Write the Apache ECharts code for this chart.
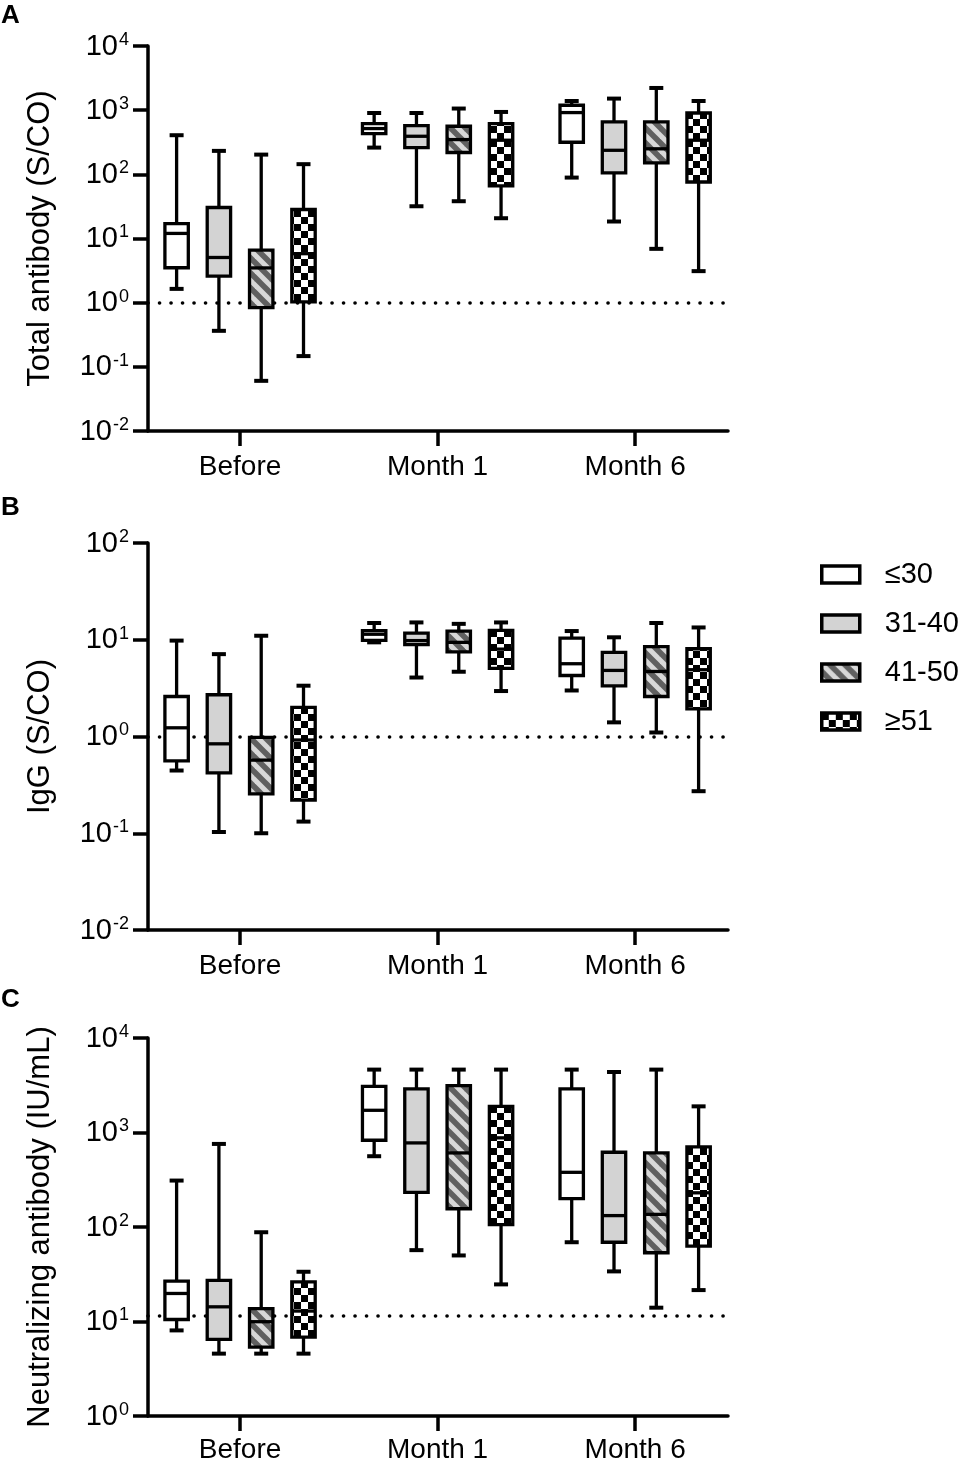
<!DOCTYPE html>
<html><head><meta charset="utf-8">
<script src="https://cdn.jsdelivr.net/npm/echarts@6/dist/echarts.min.js"></script>
<style>html,body{margin:0;padding:0;background:#fff}#c{width:958px;height:1464px}</style>
</head><body><div id="c"></div>
<script>
// ---- data (each row: [min, Q1, median, Q3, max] for Before, Month 1, Month 6) ----
const categories = ['Before', 'Month 1', 'Month 6'];
const ageGroups = ['≤30', '31-40', '41-50', '≥51'];

// Panel A: Total antibody (S/CO)
const totalLe30 = [[1.64, 3.5, 12, 17.1, 407], [261, 432, 517, 618, 904], [89, 316, 917, 1192, 1390]];
const total31to40 = [[0.364, 2.59, 5.06, 30.4, 232], [31.8, 261, 392, 575, 904], [18.4, 105, 237, 655, 1515]];
const total41to50 = [[0.0605, 0.84, 3.48, 6.57, 203], [38.1, 219, 348, 561, 1060], [6.9, 151, 250, 655, 2218]];
const totalGe51 = [[0.147, 1.03, 5.8, 28.3, 144], [20.7, 66, 340, 618, 938], [3.1, 76, 340, 904, 1390]];

// Panel B: IgG (S/CO)
const iggLe30 = [[0.445, 0.56, 1.23, 2.59, 9.8], [9.4, 9.84, 11.4, 12.4, 14.9], [2.99, 4.27, 5.65, 10.4, 12.3]];
const igg31to40 = [[0.103, 0.42, 0.84, 2.7, 7.1], [4.07, 8.9, 9.8, 11.7, 15.1], [1.4, 3.34, 4.82, 7.4, 10.6]];
const igg41to50 = [[0.1, 0.255, 0.57, 0.98, 11], [4.67, 7.5, 9.4, 12.3, 14.6], [1.1, 2.59, 4.7, 8.5, 14.9]];
const iggGe51 = [[0.132, 0.22, 0.92, 2.0, 3.35], [2.95, 5.05, 8, 12.5, 15.1], [0.272, 1.93, 4.9, 8.07, 13.4]];

// Panel C: Neutralizing antibody (IU/mL)
const nabLe30 = [[8.05, 10.5, 19.8, 26.7, 310], [561, 828, 1718, 3080, 4630], [69, 200, 379, 2890, 4630]];
const nab31to40 = [[4.57, 6.47, 14.3, 27.2, 757], [56.9, 233, 776, 2890, 4630], [33.9, 69, 132, 618, 4370]];
const nab41to50 = [[4.57, 5.36, 9.95, 13.7, 88], [50, 156, 608, 3130, 4630], [14, 53.4, 136, 608, 4630]];
const nabGe51 = [[4.57, 6.84, 12.9, 26.3, 33.6], [24.7, 106, 878, 1891, 4630], [21.5, 62.7, 230, 705, 1891]];

const panelNames = ['Total antibody (S/CO)', 'IgG (S/CO)', 'Neutralizing antibody (IU/mL)'];
const panelLetters = ['A', 'B', 'C'];
const yMins = [0.01, 0.01, 1];
const yMaxs = [10000, 100, 10000];
const cutoffs = [1, 1, 11.5];
const panelData = [
  [totalLe30, total31to40, total41to50, totalGe51],
  [iggLe30, igg31to40, igg41to50, iggGe51],
  [nabLe30, nab31to40, nab41to50, nabGe51]
];

// ---- styling ----
const FONT = 'Liberation Sans, Arial, Helvetica, sans-serif';
function makeStripe() {
  const s = 15, c = document.createElement('canvas');
  c.width = s; c.height = s;
  const g = c.getContext('2d');
  g.fillStyle = '#606060'; g.fillRect(0, 0, s, s);
  g.strokeStyle = '#d8d8d8'; g.lineWidth = 5;
  [-s, 0, s].forEach(k => { g.beginPath(); g.moveTo(k - 3, -3); g.lineTo(k + s + 3, s + 3); g.stroke(); });
  return c;
}
function makeChecker() {
  const s = 7, c = document.createElement('canvas');
  c.width = 2 * s; c.height = 2 * s;
  const g = c.getContext('2d');
  g.fillStyle = '#ffffff'; g.fillRect(0, 0, 2 * s, 2 * s);
  g.fillStyle = '#000000'; g.fillRect(0, 0, s, s); g.fillRect(s, s, s, s);
  return c;
}
const fills = ['#ffffff', '#d3d3d3',
  { image: makeStripe(), repeat: 'repeat' },
  { image: makeChecker(), repeat: 'repeat' }];

function makeRender(g) {
  return function (params, api) {
    const ci = api.value(0);
    const cx = api.coord([ci, api.value(3)])[0] + (g - 1.5) * 42.3;
    const y = i => api.coord([ci, api.value(i)])[1];
    const yMin = y(1), yQ1 = y(2), yMed = y(3), yQ3 = y(4), yMax = y(5);
    const hw = 11.7, cw = 7;
    const ls = { stroke: '#000', lineWidth: 3.3 };
    const cs = { stroke: '#000', lineWidth: 4 };
    return {
      type: 'group',
      children: [
        { type: 'line', shape: { x1: cx, y1: yMax, x2: cx, y2: yQ3 }, style: ls },
        { type: 'line', shape: { x1: cx, y1: yQ1, x2: cx, y2: yMin }, style: ls },
        { type: 'line', shape: { x1: cx - cw, y1: yMax, x2: cx + cw, y2: yMax }, style: cs },
        { type: 'line', shape: { x1: cx - cw, y1: yMin, x2: cx + cw, y2: yMin }, style: cs },
        { type: 'rect', shape: { x: cx - hw, y: yQ3, width: 2 * hw, height: yQ1 - yQ3 },
          style: { fill: fills[g], stroke: '#000', lineWidth: 3.3 } },
        { type: 'line', shape: { x1: cx - hw, y1: yMed, x2: cx + hw, y2: yMed }, style: ls }
      ]
    };
  };
}

const grids = [
  { left: 148, top: 46, width: 580, height: 385 },
  { left: 148, top: 543, width: 580, height: 387 },
  { left: 148, top: 1038, width: 580, height: 379 }
];
const titleTops = [3, 495, 987];
const labelMargins = [22, 22, 20];

const axisLineStyle = { color: '#000', width: 3.5 };
const xAxes = [], yAxes = [], series = [], titles = [];
for (let p = 0; p < 3; p++) {
  titles.push({ text: panelLetters[p], left: 1, top: titleTops[p], padding: 0,
    textStyle: { fontSize: 26, fontWeight: 'bold', color: '#000', fontFamily: FONT } });
  xAxes.push({
    gridIndex: p, type: 'value', min: -0.466, max: 2.47,
    axisLine: { show: true, onZero: false, lineStyle: axisLineStyle },
    axisTick: { show: true, customValues: [0, 1, 2], length: 15, lineStyle: axisLineStyle },
    axisLabel: { customValues: [0, 1, 2], formatter: v => categories[Math.round(v)],
      fontSize: 28, color: '#000', fontFamily: FONT, margin: labelMargins[p] },
    splitLine: { show: false }
  });
  yAxes.push({
    gridIndex: p, type: 'log', logBase: 10, min: yMins[p], max: yMaxs[p],
    name: panelNames[p], nameLocation: 'middle', nameGap: 92,
    nameTextStyle: { fontSize: 31, color: '#000', fontFamily: FONT },
    axisLine: { show: true, onZero: false, lineStyle: axisLineStyle },
    axisTick: { show: true, length: 15, lineStyle: axisLineStyle },
    splitLine: { show: false },
    axisLabel: {
      margin: 19,
      formatter: v => '{b|10}{s|' + Math.round(Math.log10(v)) + '}',
      rich: {
        b: { fontSize: 29, lineHeight: 30, color: '#000', fontFamily: FONT, verticalAlign: 'bottom' },
        s: { fontSize: 18, lineHeight: 18, color: '#000', fontFamily: FONT, verticalAlign: 'top', padding: [0, 0, 0, 1] }
      }
    }
  });
  for (let g = 0; g < 4; g++) {
    const s = {
      type: 'custom', name: ageGroups[g], xAxisIndex: p, yAxisIndex: p, z: 3,
      renderItem: makeRender(g),
      encode: { x: 0, y: [1, 2, 3, 4, 5] },
      data: panelData[p][g].map((row, ci) => [ci].concat(row))
    };
    if (g === 0) {
      s.markLine = {
        silent: true, z: 1, symbol: ['none', 'none'], label: { show: false },
        lineStyle: { color: '#000', width: 3.6, type: [0.1, 11.4], cap: 'round' },
        data: [{ yAxis: cutoffs[p] }]
      };
    }
    series.push(s);
  }
}

const chart = echarts.init(document.getElementById('c'), null, { renderer: 'canvas' });
chart.setOption({
  animation: false,
  backgroundColor: '#fff',
  title: titles,
  legend: {
    orient: 'vertical', left: 815, top: 555, itemWidth: 38, itemHeight: 17, itemGap: 20,
    selectedMode: false,
    textStyle: { fontSize: 29, color: '#000', fontFamily: FONT, padding: [0, 0, 0, 20] },
    data: ageGroups.map((n, g) => ({ name: n, icon: 'rect',
      itemStyle: { color: fills[g], borderColor: '#000', borderWidth: 3.5 } }))
  },
  grid: grids,
  xAxis: xAxes,
  yAxis: yAxes,
  series: series
});
</script></body></html>
